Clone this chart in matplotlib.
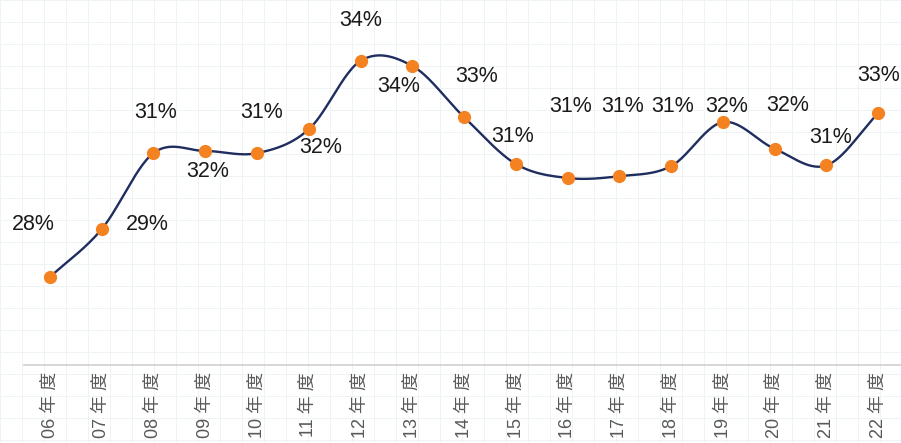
import numpy as np
import matplotlib
matplotlib.use('Agg')
import matplotlib.pyplot as plt

plt.rcParams['font.family'] = ['Liberation Sans', 'Noto Sans CJK SC', 'DejaVu Sans']

# 数据
years = ['06', '07', '08', '09', '10', '11', '12', '13', '14', '15', '16', '17', '18', '19', '20', '21', '22']
rates = [28.0, 29.33, 31.44, 31.5, 31.44, 32.1, 34.0, 33.86, 32.44, 31.14, 30.75, 30.8, 31.08, 32.3, 31.56, 31.1, 32.55]
labels = ['28%', '29%', '31%', '32%', '31%', '32%', '34%', '34%', '33%', '31%', '31%', '31%', '31%', '32%', '32%', '31%', '33%']
xticklabels = [y + ' 年 度' for y in years]

# 标签偏移 (像素, 右/下为正)
offsets = [(-17, -53), (46, -5), (2, -41), (2, 21), (5, -41), (12, 18), (0, -40), (-14, 21),
           (13, -41), (-3, -27), (3, -71), (3, -70), (1, -60), (4, -16), (13, -43), (4, -28), (0, -38)]


def catmull_rom(x, y, n=30):
    # 平滑曲线 (类似Excel平滑线)
    px = np.concatenate([[2 * x[0] - x[1]], x, [2 * x[-1] - x[-2]]])
    py = np.concatenate([[2 * y[0] - y[1]], y, [2 * y[-1] - y[-2]]])
    xs, ys = [], []
    t = np.linspace(0, 1, n)
    for i in range(1, len(px) - 2):
        for p, out in ((px, xs), (py, ys)):
            p0, p1, p2, p3 = p[i - 1], p[i], p[i + 1], p[i + 2]
            out.extend(0.5 * ((2 * p1) + (-p0 + p2) * t + (2 * p0 - 5 * p1 + 4 * p2 - p3) * t ** 2
                              + (-p0 + 3 * p1 - 3 * p2 + p3) * t ** 3))
    return np.array(xs), np.array(ys)


fig = plt.figure(figsize=(9.01, 4.43), dpi=100)

# 背景网格纸
bg = fig.add_axes([0, 0, 1, 1], zorder=0)
bg.set_xlim(0, 901)
bg.set_ylim(443, 0)
bg.set_xticks(np.arange(0, 901, 22))
bg.set_yticks(np.arange(0, 443, 22))
bg.grid(True, color='#eef3f3', lw=0.7)
bg.tick_params(length=0, labelbottom=False, labelleft=False)
for s in bg.spines.values():
    s.set_visible(False)

ax = fig.add_axes([24 / 901, 78 / 443, 1 - 24 / 901, 365 / 443], zorder=1)
ax.patch.set_alpha(0)
x = np.arange(len(years))
sx, sy = catmull_rom(x.astype(float), np.array(rates))
ax.plot(sx, sy, color='#1f2d5f', lw=1.7, zorder=2)
ax.plot(x, rates, 'o', color='#f58220', markersize=8.5, zorder=3)

for xi, yi, lab, (dx, dy) in zip(x, rates, labels, offsets):
    ax.annotate(lab, (xi, yi), xytext=(dx, -dy), textcoords='offset pixels',
                ha='center', va='center', fontsize=15.5, color='#1a1a1a')

ax.set_xlim(-0.5, 16.44)
ax.set_ylim(25.56, 35.69)
ax.set_yticks([])
ax.set_xticks(x)
ax.set_xticklabels(xticklabels, rotation=90, fontsize=13, color='#595959')
ax.tick_params(axis='x', length=0, pad=5)
for s in ['top', 'left', 'right']:
    ax.spines[s].set_visible(False)
ax.spines['bottom'].set_color('#d0d0d0')
ax.spines['bottom'].set_linewidth(1.2)

plt.savefig('out.png', dpi=100)
